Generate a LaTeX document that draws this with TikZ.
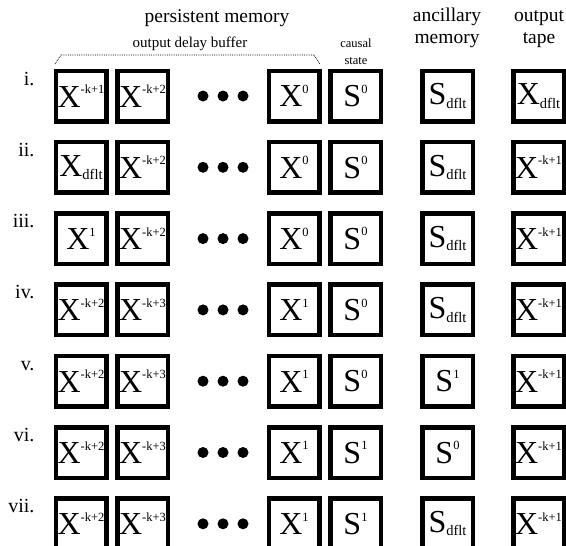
\documentclass[tikz,border=0pt]{standalone}
\usepackage{fontspec}
\setmainfont{Liberation Serif}
\newcommand{\xsup}[2]{#1\raisebox{0.42em}{\fontsize{12.5}{12.5}\selectfont #2}}
\newcommand{\xsub}[2]{#1\raisebox{-0.1em}{\fontsize{14.5}{14.5}\selectfont #2}}
\begin{document}
\begin{tikzpicture}[x=1pt, y=-1pt,
    cell/.style={draw, line width=4.5pt, minimum size=50.5pt, inner sep=0pt, font=\fontsize{32}{32}\selectfont},
    rowlabel/.style={anchor=base east, font=\fontsize{20}{20}\selectfont},
    heading/.style={anchor=base, align=center, font=\fontsize{19.5}{21.5}\selectfont},
    subheading/.style={anchor=base, align=center, font=\fontsize{12.5}{17}\selectfont},
    bufdot/.style={circle, fill=black, inner sep=0pt, minimum size=11pt}]
		\useasboundingbox (0,0) rectangle (566,546);
		% headings (base = last line)
		\node[heading] (persist) at (217,22) {persistent memory};
		\node[heading] (ancil) at (447,43) {ancillary\\memory};
		\node[heading] (tape) at (539,43) {output\\tape};
		\node[subheading, font=\fontsize{15}{16}\selectfont] (delay) at (190,47) {output delay buffer};
		\node[subheading] (causal) at (356,64) {causal\\state};
		\draw[densely dotted, line width=0.8pt] (55,64) -- (61,55) -- (314,55) -- (320,64);
		% one row per step
		\foreach \r/\lab/\ca/\cb/\cc/\cd/\ce/\cf in {
			1/i./{\xsup{X}{-k+1}}/{\xsup{X}{-k+2}}/{\xsup{X}{0}}/{\xsup{S}{0}}/{\xsub{S}{dflt}}/{\xsub{X}{dflt}},
			2/ii./{\xsub{X}{dflt}}/{\xsup{X}{-k+2}}/{\xsup{X}{0}}/{\xsup{S}{0}}/{\xsub{S}{dflt}}/{\xsup{X}{-k+1}},
			3/iii./{\xsup{X}{1}}/{\xsup{X}{-k+2}}/{\xsup{X}{0}}/{\xsup{S}{0}}/{\xsub{S}{dflt}}/{\xsup{X}{-k+1}},
			4/iv./{\xsup{X}{-k+2}}/{\xsup{X}{-k+3}}/{\xsup{X}{1}}/{\xsup{S}{0}}/{\xsub{S}{dflt}}/{\xsup{X}{-k+1}},
			5/v./{\xsup{X}{-k+2}}/{\xsup{X}{-k+3}}/{\xsup{X}{1}}/{\xsup{S}{0}}/{\xsup{S}{1}}/{\xsup{X}{-k+1}},
			6/vi./{\xsup{X}{-k+2}}/{\xsup{X}{-k+3}}/{\xsup{X}{1}}/{\xsup{S}{1}}/{\xsup{S}{0}}/{\xsup{X}{-k+1}},
			7/vii./{\xsup{X}{-k+2}}/{\xsup{X}{-k+3}}/{\xsup{X}{1}}/{\xsup{S}{1}}/{\xsub{S}{dflt}}/{\xsup{X}{-k+1}}}{
			\pgfmathsetmacro\cy{96+71.3*(\r-1)}
			\node[rowlabel] (lab\r) at (38,\cy-11) {\lab};
			\node[cell] (bufa\r) at (81,\cy) {\ca};
			\node[cell] (bufb\r) at (142.5,\cy) {\cb};
			\node[bufdot] (dota\r) at (203,\cy) {};
			\node[bufdot] (dotb\r) at (223,\cy) {};
			\node[bufdot] (dotc\r) at (243,\cy) {};
			\node[cell] (bufz\r) at (294,\cy) {\cc};
			\node[cell] (state\r) at (355.5,\cy) {\cd};
			\node[cell] (anc\r) at (447.5,\cy) {\ce};
			\node[cell] (out\r) at (538.5,\cy) {\cf};
		}
		\end{tikzpicture}
\end{document}
